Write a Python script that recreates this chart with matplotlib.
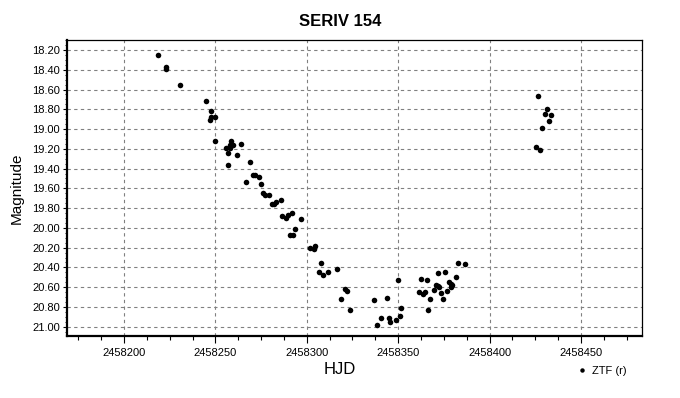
import matplotlib
matplotlib.use('Agg')
import matplotlib.pyplot as plt
from matplotlib.ticker import MultipleLocator, FormatStrFormatter

plt.rcParams['font.family'] = ['Liberation Sans', 'DejaVu Sans']

# ZTF (r) photometry of SERIV 154
hjd = [
    2458218.4, 2458222.8, 2458222.8, 2458230.5, 2458244.7, 2458247.4, 2458247.4,
    2458249.6, 2458246.9, 2458249.6, 2458258.4, 2458257.8, 2458259.4, 2458263.8,
    2458255.6, 2458257.8, 2458256.7, 2458261.7, 2458268.8, 2458256.7, 2458270.4,
    2458271.5, 2458273.7, 2458266.6, 2458274.8, 2458276.3, 2458277.4, 2458279.5,
    2458280.8, 2458281.9, 2458283.4, 2458285.7, 2458286.3, 2458288.5, 2458289.6,
    2458291.7, 2458296.7, 2458293.4, 2458290.6, 2458292.3, 2458301.6, 2458303.8,
    2458304.3, 2458307.6, 2458306.5, 2458308.7, 2458311.4, 2458316.4, 2458320.7,
    2458321.8, 2458318.5, 2458323.5, 2458336.6, 2458340.4, 2458338.2, 2458343.7,
    2458344.8, 2458345.4, 2458348.6, 2458350.8, 2458351.4, 2458349.7, 2458361.2,
    2458362.3, 2458363.4, 2458364.5, 2458365.6, 2458367.2, 2458366.1, 2458369.4,
    2458370.5, 2458371.6, 2458372.2, 2458371.6, 2458375.4, 2458373.2, 2458374.3,
    2458376.5, 2458377.6, 2458378.7, 2458379.3, 2458378.7, 2458381.5, 2458382.5,
    2458386.4, 2458426.3, 2458431.2, 2458430.1, 2458433.4, 2458432.3, 2458428.5,
    2458425.2, 2458427.4,
]
mag = [
    18.25, 18.37, 18.39, 18.55, 18.72, 18.82, 18.88,
    18.88, 18.91, 19.12, 19.12, 19.16, 19.16, 19.15,
    19.19, 19.19, 19.24, 19.26, 19.33, 19.36, 19.47,
    19.46, 19.49, 19.54, 19.56, 19.65, 19.67, 19.67,
    19.76, 19.76, 19.74, 19.72, 19.88, 19.90, 19.87,
    19.85, 19.91, 20.01, 20.07, 20.07, 20.20, 20.21,
    20.18, 20.36, 20.45, 20.48, 20.45, 20.42, 20.62,
    20.64, 20.72, 20.83, 20.73, 20.91, 20.98, 20.71,
    20.91, 20.95, 20.93, 20.89, 20.81, 20.53, 20.65,
    20.52, 20.67, 20.65, 20.53, 20.72, 20.83, 20.63,
    20.58, 20.59, 20.60, 20.46, 20.45, 20.66, 20.72,
    20.64, 20.55, 20.57, 20.58, 20.60, 20.50, 20.36,
    20.37, 18.67, 18.80, 18.85, 18.86, 18.92, 18.99,
    19.18, 19.21,
]

fig = plt.figure(figsize=(6.8, 3.98), dpi=100)
ax = fig.add_axes([67/680, 1 - 336/398, (642 - 67)/680, (336 - 40)/398])

ax.plot(hjd, mag, 'o', color='black', markersize=4, markeredgewidth=0, label='ZTF (r)')

ax.set_xlim(2458168.8, 2458483.4)
ax.set_ylim(21.094, 18.099)

ax.xaxis.set_major_locator(MultipleLocator(50))
ax.xaxis.set_minor_locator(MultipleLocator(12.5))
ax.xaxis.set_major_formatter(FormatStrFormatter('%d'))
ax.yaxis.set_major_locator(MultipleLocator(0.2))
ax.yaxis.set_minor_locator(MultipleLocator(0.05))
ax.yaxis.set_major_formatter(FormatStrFormatter('%.2f'))

ax.tick_params(axis='both', which='major', labelsize=8, direction='out', length=3, width=0.8, pad=2)
ax.tick_params(axis='x', which='major', length=5, pad=4)
ax.tick_params(axis='x', which='minor', direction='out', length=3, width=0.8)
ax.tick_params(axis='y', which='minor', direction='out', length=1.5, width=0.6)

ax.grid(True, which='major', color='#808080', linestyle=(0, (3, 3)), linewidth=0.8)

for side in ['left', 'bottom']:
    ax.spines[side].set_linewidth(1.6)
for side in ['top', 'right']:
    ax.spines[side].set_linewidth(0.9)

fig.text(340/680, 1 - 22/398, 'SERIV 154', ha='center', va='center', fontsize=12, fontweight='bold')
fig.text(340/680, 1 - 370/398, 'HJD', ha='center', va='center', fontsize=12)
fig.text(17/680, 1 - 188/398, 'Magnitude', ha='center', va='center', fontsize=11, rotation=90)

fig.legend(loc='center left', bbox_to_anchor=(566/680, 1 - 371/398), frameon=False,
           fontsize=8, handlelength=1.0, handletextpad=0.4, markerscale=0.8)

fig.savefig('out.png', dpi=100)
